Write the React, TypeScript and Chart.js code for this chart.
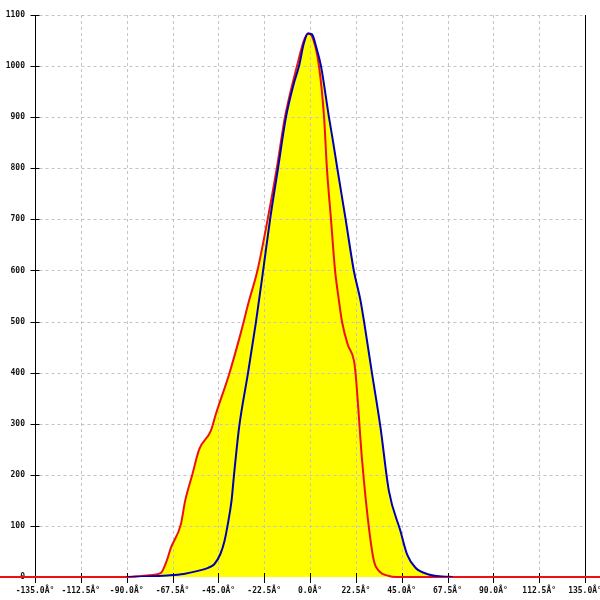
import React, { useEffect, useRef } from "react";
import { Chart, registerables } from "chart.js";

Chart.register(...registerables);

const xTicks = [-135, -112.5, -90, -67.5, -45, -22.5, 0, 22.5, 45, 67.5, 90, 112.5, 135];
const yTicks = [0, 100, 200, 300, 400, 500, 600, 700, 800, 900, 1000, 1100];
const tickSuffix = "Â°";

const blueAngles = [-90, -80, -70, -62, -55, -50, -47, -44, -42, -40.5, -38.5, -37.3, -34.8, -30.4, -26.5, -23, -19.6, -15.7, -11.8, -8, -5.4, -3, -1, 1, 3, 5.4, 9.3, 11.2, 13.4, 17.5, 21.5, 24.8, 30.5, 34.6, 38.7, 44.4, 47.7, 51.8, 58.3, 65, 70];
const blueValues = [0, 1, 3, 6, 12, 18, 25, 45, 70, 100, 150, 200, 293, 400, 500, 600, 700, 800, 900, 965, 1000, 1045, 1064, 1062, 1038, 1000, 900, 855, 800, 700, 600, 541, 397, 293, 169, 90, 44, 18, 5, 1, 0];

const redAngles = [-180, -90, -80, -73.2, -70.5, -68.3, -63.4, -61.3, -57.8, -54.4, -48.7, -46.2, -39.7, -34.5, -29.9, -25.8, -20.8, -16.3, -12.3, -6.4, -3, -1, 1, 4.4, 6.9, 8.3, 10.3, 12.3, 14.2, 15.7, 18.5, 21.6, 22.4, 25.6, 28.9, 31.4, 33.8, 38.7, 42, 180];
const redValues = [0, 0, 3, 8, 30, 57, 103, 149, 200, 250, 286, 319, 397, 470, 541, 600, 700, 800, 900, 1000, 1050, 1064, 1058, 1000, 900, 800, 700, 600, 541, 500, 455, 423, 397, 227, 97, 31, 12, 2, 0, 0];

const labelFont = { family: '"DejaVu Sans Mono", monospace', size: 8, weight: "bold" as const };

const axesPlugin = {
  id: "axesPlugin",
  beforeDatasetsDraw(chart: any) {
    const { ctx, chartArea, scales } = chart;
    const xs = scales.x;
    const ys = scales.y;
    const left = Math.round(chartArea.left) + 0.5;
    const right = Math.round(chartArea.right) + 0.5;
    const top = Math.round(chartArea.top);
    const bottom = Math.round(chartArea.bottom);
    ctx.save();
    ctx.lineWidth = 1;
    ctx.strokeStyle = "#c4c4c4";
    ctx.setLineDash([3, 3]);
    for (const v of yTicks) {
      if (v === yTicks[0]) continue;
      const py = Math.round(ys.getPixelForValue(v)) + 0.5;
      ctx.beginPath();
      ctx.moveTo(left + 4, py);
      ctx.lineTo(right, py);
      ctx.stroke();
    }
    for (const v of xTicks) {
      if (v === xTicks[0] || v === xTicks[xTicks.length - 1]) continue;
      const px = Math.round(xs.getPixelForValue(v)) + 0.5;
      ctx.beginPath();
      ctx.moveTo(px, top);
      ctx.lineTo(px, bottom - 4);
      ctx.stroke();
    }
    ctx.setLineDash([]);
    ctx.strokeStyle = "#000";
    ctx.beginPath();
    ctx.moveTo(left, top);
    ctx.lineTo(left, bottom + 6);
    ctx.moveTo(right, top);
    ctx.lineTo(right, bottom + 6);
    ctx.stroke();
    for (const v of yTicks) {
      const py = Math.round(ys.getPixelForValue(v)) + 0.5;
      ctx.beginPath();
      ctx.moveTo(left - 5, py);
      ctx.lineTo(left + 4, py);
      ctx.stroke();
    }
    for (const v of xTicks) {
      const px = Math.round(xs.getPixelForValue(v)) + 0.5;
      ctx.beginPath();
      ctx.moveTo(px, bottom - 4);
      ctx.lineTo(px, bottom + 6);
      ctx.stroke();
    }
    ctx.restore();
  },
};

export default function App() {
  const ref = useRef<HTMLCanvasElement>(null);
  useEffect(() => {
    if (!ref.current) return;
    const chart = new Chart(ref.current, {
      type: "line",
      data: {
        datasets: [
          {
            label: "blue",
            data: blueAngles.map((a, i) => ({ x: a, y: blueValues[i] })),
            borderColor: "#0000b4",
            borderWidth: 2,
            pointRadius: 0,
            fill: "origin",
            backgroundColor: "#ffff00",
            cubicInterpolationMode: "monotone",
          },
          {
            label: "red",
            data: redAngles.map((a, i) => ({ x: a, y: redValues[i] })),
            borderColor: "#ee1111",
            borderWidth: 2,
            pointRadius: 0,
            fill: "origin",
            backgroundColor: "#ffff00",
            cubicInterpolationMode: "monotone",
            clip: false as any,
          },
        ],
      },
      options: {
        responsive: false,
        animation: false,
        layout: { padding: { top: 15, right: 15, left: 0, bottom: 0 } },
        plugins: {
          legend: { display: false },
          tooltip: { enabled: false },
          filler: { drawTime: "beforeDatasetsDraw" },
        },
        scales: {
          x: {
            type: "linear",
            min: xTicks[0],
            max: xTicks[xTicks.length - 1],
            grid: { display: false, drawTicks: false },
            border: { display: false },
            afterBuildTicks: (scale: any) => {
              scale.ticks = xTicks.map((v) => ({ value: v }));
            },
            afterFit: (scale: any) => {
              scale.height = 23;
              scale.paddingLeft = 0;
              scale.paddingRight = 0;
            },
            ticks: {
              autoSkip: false,
              maxRotation: 0,
              padding: 9,
              color: "#111",
              font: labelFont,
              callback: (v: any) => Number(v).toFixed(1) + tickSuffix,
            },
          },
          y: {
            type: "linear",
            min: yTicks[0],
            max: yTicks[yTicks.length - 1],
            grid: { display: false, drawTicks: false },
            border: { display: false },
            afterBuildTicks: (scale: any) => {
              scale.ticks = yTicks.map((v) => ({ value: v }));
            },
            afterFit: (scale: any) => {
              scale.width = 35;
              scale.paddingTop = 0;
              scale.paddingBottom = 0;
            },
            ticks: {
              autoSkip: false,
              padding: 10,
              color: "#111",
              font: labelFont,
              callback: (v: any) => String(v),
            },
          },
        },
      },
      plugins: [axesPlugin],
    });
    return () => chart.destroy();
  }, []);
  return (
    <div style={{ position: "fixed", left: 0, top: 0, width: 600, height: 600, background: "#fff" }}>
      <canvas ref={ref} width={600} height={600} />
    </div>
  );
}
